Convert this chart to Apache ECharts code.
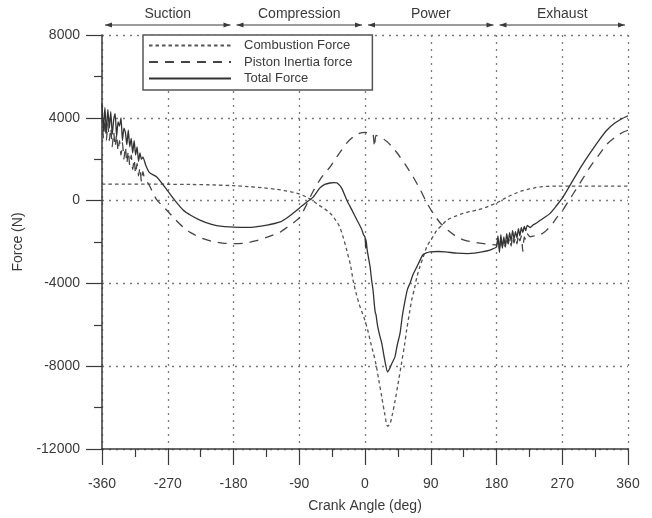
<!DOCTYPE html>
<html>
<head>
<meta charset="utf-8">
<script src="https://cdn.jsdelivr.net/npm/echarts@6/dist/echarts.min.js"></script>
<style>
  html, body { margin: 0; padding: 0; background: #fff; }
  #chart { width: 652px; height: 518px; }
</style>
</head>
<body>
<div id="chart"></div>
<script>
// Engine cycle phases along the crank angle axis
const phaseNames = ['Suction', 'Compression', 'Power', 'Exhaust'];
const phaseEdges = [-360, -180, 0, 180, 360];

// Combustion (gas) force
const combAngle = [-360,-330,-300,-270,-240,-210,-180,-160,-140,-120,-110,-100,-90,-80,-72,-64,-56,-48,-40,-35,-30,-25,-20,-16,-12,-8,-4,0,4,8,11,15,19,23,27,31,34,37,41,45,50,54,57,61,64,68,71,75,79,85,92,98,105,112,122,134,145,155,165,172,180,190,200,208,216,224,232,240,250,263,280,300,320,340,360];
const combForce = [800,800,800,790,780,760,720,680,620,540,480,410,320,170,0,-200,-380,-600,-950,-1250,-1750,-2400,-3100,-3900,-4500,-5000,-5400,-5800,-6300,-6900,-7300,-7900,-8700,-9500,-10300,-10900,-10800,-10400,-9700,-8900,-7850,-7000,-6250,-5400,-4800,-4200,-3700,-3200,-2800,-2200,-1800,-1450,-1200,-950,-780,-620,-520,-440,-330,-230,-120,80,260,380,480,560,620,660,690,700,700,700,700,700,700];

// Piston inertia force
const inertiaAngle = [-360,-358,-356,-354,-352,-350,-348,-346,-344,-342,-340,-338,-336,-334,-332,-330,-328,-326,-324,-322,-320,-318,-316,-314,-312,-310,-308,-306,-304,-302,-298,-294,-290,-285,-278,-271,-260,-249,-238,-226,-210,-195,-180,-165,-150,-135,-116,-105,-97,-89,-80,-71,-60,-48,-36,-25,-16,-7,0,7,11,13,15,21,30,37,44,55,66,76,85,94,103,114,126,137,148,160,170,180,182,184,186,188,190,192,194,196,198,200,202,204,206,208,210,212,214,216,218,220,222,226,232,240,248,256,263,271,278,285,297,308,320,331,342,353,360];
const inertiaForce = [4200,3000,3900,2900,3700,2900,3500,2600,3300,2600,3200,2400,2900,2200,2800,2000,2600,1800,2400,1700,2200,1500,2000,1300,1800,1200,1600,900,1400,1100,900,660,350,30,-230,-480,-900,-1280,-1560,-1780,-1960,-2050,-2080,-2060,-1950,-1780,-1520,-1250,-1050,-790,-200,450,1100,1620,2250,2780,3080,3260,3300,3260,3200,2600,3150,3070,2850,2600,2300,1750,1140,500,-130,-650,-1080,-1450,-1760,-1920,-2000,-2070,-2110,-2140,-1900,-2300,-1800,-2200,-1900,-2250,-1750,-2100,-1800,-2200,-1700,-2050,-1750,-2100,-1650,-1950,-1700,-2450,-1750,-1900,-1600,-1750,-1700,-1650,-1450,-1150,-800,-450,-50,330,1000,1620,2200,2720,3050,3300,3400];

// Total force on the piston
const totalAngle = [-360,-358,-356,-354,-352,-350,-348,-346,-344,-342,-340,-338,-336,-334,-332,-330,-328,-326,-324,-322,-320,-318,-316,-314,-312,-310,-308,-306,-304,-300,-295,-285,-271,-260,-249,-238,-226,-210,-195,-180,-160,-134,-116,-107,-98,-89,-80,-71,-62,-55,-48,-42,-38,-32,-25,-18,-11,-5,-2,0,1,1.5,3,7,9,11,13,14,15,17,20,23,27,31,34,37,41,44,48,51,55,58,62,66,71,75,79,84,89,100,110,126,140,150,160,171,175,180,182,184,186,188,190,192,194,196,198,200,202,204,206,208,210,212,214,216,218,220,222,226,230,235,240,253,262,271,285,297,308,320,331,342,353,360];
const totalForce = [4700,3400,4500,3300,4400,3500,4300,3200,3900,4200,3100,3800,3600,4000,2900,3500,3300,2700,3400,2600,3000,2300,2900,2200,2600,1900,2300,2000,2100,1700,1350,1140,510,0,-450,-720,-940,-1150,-1250,-1280,-1290,-1180,-1030,-840,-600,-330,-80,170,600,780,850,870,850,600,30,-450,-940,-1350,-1650,-1760,-2300,-1900,-2390,-3200,-3830,-4320,-5100,-5400,-5500,-6000,-6500,-6900,-7700,-8280,-8100,-7850,-7550,-7000,-6400,-5600,-4800,-4300,-3950,-3550,-3200,-2900,-2630,-2530,-2480,-2460,-2480,-2540,-2560,-2540,-2480,-2390,-2330,-2240,-1700,-2500,-1650,-2300,-1750,-2200,-1600,-2050,-1550,-1950,-1450,-1850,-1500,-1800,-1350,-1700,-1300,-1550,-1250,-1450,-1200,-1300,-1180,-1080,-950,-630,-250,170,1000,1700,2290,2900,3400,3750,3980,4100];

const pairs = (xs, ys) => xs.map((x, i) => [x, ys[i]]);

const FONT = '"Liberation Sans", Arial, sans-serif';
const chart = echarts.init(document.getElementById('chart'), null, { renderer: 'canvas' });

const axisCommon = {
  axisLine: { show: true, onZero: false, lineStyle: { color: '#3a3a3a', width: 1.5 } },
  axisTick: { show: true, inside: false, length: 16, lineStyle: { color: '#3a3a3a', width: 1.2 } },
  minorTick: { show: true, splitNumber: 2, length: 8, lineStyle: { color: '#3a3a3a', width: 1.2 } },
  splitLine: { show: true, lineStyle: { color: '#7a7a7a', width: 1.3, type: [2, 5] } },
  axisLabel: { color: '#3a3a3a', fontSize: 14, fontFamily: FONT, formatter: v => String(v) },
  nameTextStyle: { color: '#3a3a3a', fontSize: 14, fontFamily: FONT }
};

const option = {
  animation: false,
  backgroundColor: '#ffffff',
  grid: { left: 102, right: 24, top: 35, bottom: 69, containLabel: false },
  legend: {
    orient: 'vertical',
    left: 143, top: 35,
    padding: [4, 20, 5, 5],
    itemWidth: 82, itemHeight: 14, itemGap: 3.5,
    borderColor: '#555', borderWidth: 1.5,
    backgroundColor: '#fff',
    itemStyle: { opacity: 0 },
    textStyle: { color: '#3a3a3a', fontSize: 13, fontFamily: FONT, padding: [0, 0, 0, 8] },
    data: ['Combustion Force', 'Piston Inertia force', 'Total Force']
  },
  xAxis: Object.assign({}, axisCommon, {
    type: 'value', min: -360, max: 360, interval: 90,
    name: 'Crank Angle (deg)', nameLocation: 'middle', nameGap: 50,
    axisLabel: Object.assign({}, axisCommon.axisLabel, { margin: 28 })
  }),
  yAxis: Object.assign({}, axisCommon, {
    type: 'value', min: -12000, max: 8000, interval: 4000,
    name: 'Force (N)', nameLocation: 'middle', nameGap: 75,
    axisLabel: Object.assign({}, axisCommon.axisLabel, { margin: 22 })
  }),
  series: [
    {
      name: 'Combustion Force', type: 'line', data: pairs(combAngle, combForce),
      symbol: 'none', smooth: 0.3, z: 3,
      lineStyle: { color: '#555', width: 1.3, type: [3.5, 3] },
      itemStyle: { color: '#555' }
    },
    {
      name: 'Piston Inertia force', type: 'line', data: pairs(inertiaAngle, inertiaForce),
      symbol: 'none', smooth: 0.2, z: 4,
      lineStyle: { color: '#444', width: 1.3, type: [9, 7] },
      itemStyle: { color: '#444' }
    },
    {
      name: 'Total Force', type: 'line', data: pairs(totalAngle, totalForce),
      symbol: 'none', smooth: 0.2, z: 5,
      lineStyle: { color: '#333', width: 1.3, type: 'solid' },
      itemStyle: { color: '#333' }
    }
  ]
};

chart.setOption(option);

// Phase labels with double-headed arrows above the plot
function arrowHead(x, y, dir) {
  return {
    type: 'polygon',
    shape: { points: [[x, y], [x - dir * 7, y - 2.5], [x - dir * 7, y + 2.5]] },
    style: { fill: '#3a3a3a' }
  };
}
const graphics = [];
const arrowY = 25;
for (let i = 0; i < phaseNames.length; i++) {
  const x0 = chart.convertToPixel({ xAxisIndex: 0 }, phaseEdges[i]) + 3;
  const x1 = chart.convertToPixel({ xAxisIndex: 0 }, phaseEdges[i + 1]) - 3;
  graphics.push({
    type: 'line',
    shape: { x1: x0, y1: arrowY, x2: x1, y2: arrowY },
    style: { stroke: '#3a3a3a', lineWidth: 1.2 }
  });
  graphics.push(arrowHead(x0, arrowY, -1));
  graphics.push(arrowHead(x1, arrowY, 1));
  graphics.push({
    type: 'text',
    x: (x0 + x1) / 2, y: 14,
    style: {
      text: phaseNames[i], fill: '#3a3a3a', font: '14px ' + FONT,
      textAlign: 'center', textVerticalAlign: 'middle'
    }
  });
}
chart.setOption({ graphic: graphics });
</script>
</body>
</html>
